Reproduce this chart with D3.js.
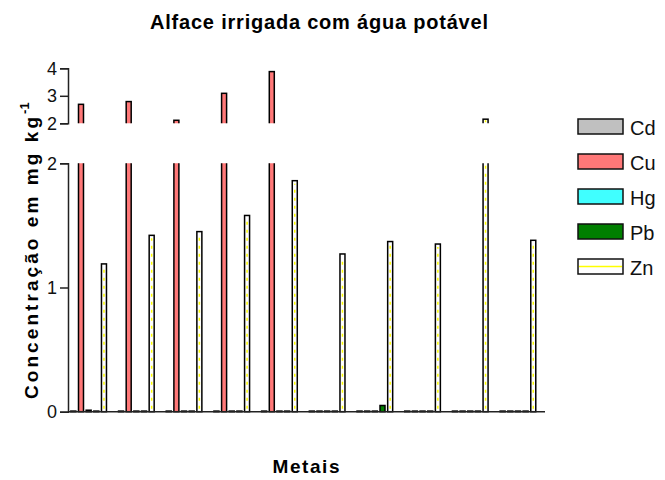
<!DOCTYPE html>
<html>
<head>
<meta charset="utf-8">
<script src="https://cdn.jsdelivr.net/npm/d3@7"></script>
<style>
  body { margin: 0; background: #fff; }
  svg { display: block; font-family: Arial, "Liberation Sans", sans-serif; }
</style>
</head>
<body>
<svg id="chart" width="665" height="480"></svg>
<script>
// Samples (unlabelled groups) and metals
const samples = ["A1", "A2", "A3", "A4", "A5", "A6", "A7", "A8", "A9", "A10"];
const metals = ["Cd", "Cu", "Hg", "Pb", "Zn"];

// Concentrations in mg kg-1
const cdValues = [0.005, 0.005, 0.005, 0.005, 0.005, 0.005, 0.005, 0.005, 0.005, 0.005];
const cuValues = [2.69, 2.79, 2.11, 3.09, 3.88, 0.005, 0.005, 0.005, 0.005, 0.005];
const hgValues = [0.012, 0.005, 0.005, 0.005, 0.005, 0.005, 0.005, 0.005, 0.005, 0.005];
const pbValues = [0.005, 0.005, 0.005, 0.005, 0.005, 0.005, 0.05, 0.005, 0.005, 0.005];
const znValues = [1.19, 1.42, 1.45, 1.58, 1.86, 1.27, 1.37, 1.35, 2.15, 1.38];

const lowTicks = [0, 1, 2];
const highTicks = [2, 3, 4];

const seriesValues = { Cd: cdValues, Cu: cuValues, Hg: hgValues, Pb: pbValues, Zn: znValues };
const fills = { Cd: "#c0c0c0", Cu: "#ff7878", Hg: "#40ffff", Pb: "#007f00", Zn: "#ffffff" };

const svg = d3.select("#chart");

const x0 = d3.scaleBand().domain(samples).range([68, 545]).paddingInner(0).paddingOuter(0);
const x1 = d3.scaleBand().domain(metals).range([1.5, 39.8]);
const barW = 5;

// Broken value axis: lower segment 0–2, upper segment 2–4
const yLow = d3.scaleLinear().domain([0, 2]).range([411.7, 163.3]);
const yHigh = d3.scaleLinear().domain([2, 4]).range([123.3, 68.3]);

const defs = svg.append("defs");
defs.append("clipPath").attr("id", "clipLow").append("rect")
  .attr("x", 60).attr("y", 163.3).attr("width", 500).attr("height", 411.7 - 163.3 + 2);
defs.append("clipPath").attr("id", "clipHigh").append("rect")
  .attr("x", 60).attr("y", 40).attr("width", 500).attr("height", 123.3 - 40);

const rows = [];
samples.forEach((s, i) => metals.forEach(m => rows.push({ sample: s, metal: m, value: seriesValues[m][i] })));

function drawPanel(clipId, y, minV) {
  const g = svg.append("g").attr("clip-path", `url(#${clipId})`);
  const shown = rows.filter(d => d.value > minV);
  const bx = d => x0(d.sample) + x1(d.metal) + (x1.bandwidth() - barW) / 2;
  g.selectAll("rect").data(shown).join("rect")
    .attr("x", bx)
    .attr("y", d => y(d.value))
    .attr("width", barW)
    .attr("height", d => y(minV) - y(d.value) + (minV > 0 ? 4 : 0))
    .attr("fill", d => fills[d.metal])
    .attr("stroke", "#000")
    .attr("stroke-width", 1.5);
  // yellow dashed centre line on Zn bars
  g.selectAll("line.zn").data(shown.filter(d => d.metal === "Zn")).join("line")
    .attr("class", "zn")
    .attr("x1", d => bx(d) + barW / 2).attr("x2", d => bx(d) + barW / 2)
    .attr("y1", y(minV) - 3).attr("y2", d => y(d.value) + 3)
    .attr("stroke", "#ffff00").attr("stroke-width", 1.5)
    .attr("stroke-dasharray", "3,5");
}
drawPanel("clipLow", yLow, 0);
drawPanel("clipHigh", yHigh, 2);

// Axes
const axisLow = svg.append("g").attr("transform", "translate(68,0)")
  .call(d3.axisLeft(yLow).tickValues(lowTicks).tickFormat(d3.format("d")).tickSizeOuter(0).tickSize(8));
const axisHigh = svg.append("g").attr("transform", "translate(68,0)")
  .call(d3.axisLeft(yHigh).tickValues(highTicks).tickFormat(d3.format("d")).tickSizeOuter(0).tickSize(8));
[axisLow, axisHigh].forEach(a => {
  a.selectAll("path, line").attr("stroke", "#222").attr("stroke-width", 1.5);
  a.selectAll("text").attr("font-size", 18).attr("fill", "#111").attr("x", -11)
    .attr("font-family", "Arial, 'Liberation Sans', sans-serif");
});

svg.append("line").attr("x1", 68).attr("x2", 545).attr("y1", 411.7).attr("y2", 411.7)
  .attr("stroke", "#222").attr("stroke-width", 1.5);

// Title and axis titles
svg.append("text").attr("x", 319).attr("y", 29).attr("text-anchor", "middle")
  .attr("font-size", 20).attr("font-weight", "bold")
  .attr("textLength", 338).attr("lengthAdjust", "spacing")
  .text("Alface irrigada com água potável");
svg.append("text").attr("x", 306).attr("y", 473).attr("text-anchor", "middle")
  .attr("font-size", 19).attr("font-weight", "bold")
  .attr("textLength", 67).attr("lengthAdjust", "spacing")
  .text("Metais");
const yt = svg.append("text").attr("transform", "translate(38,399) rotate(-90)")
  .attr("text-anchor", "start").attr("font-size", 19).attr("font-weight", "bold");
yt.append("tspan").attr("textLength", 282).attr("lengthAdjust", "spacing").text("Concentração em mg kg");
yt.append("tspan").attr("dy", -9).attr("font-size", 13).text("-1");

// Legend
const leg = svg.append("g").selectAll("g").data(metals).join("g")
  .attr("transform", (d, i) => `translate(578,${119 + i * 35})`);
leg.append("rect").attr("width", 45).attr("height", 15)
  .attr("fill", d => fills[d]).attr("stroke", "#111").attr("stroke-width", 1.5);
leg.filter(d => d === "Zn").append("line")
  .attr("x1", 1).attr("x2", 44).attr("y1", 7.5).attr("y2", 7.5)
  .attr("stroke", "#ffff00").attr("stroke-width", 1.5);
leg.append("text").attr("x", 52).attr("y", 15.5).attr("font-size", 20).attr("fill", "#111").text(d => d);
</script>
</body>
</html>
